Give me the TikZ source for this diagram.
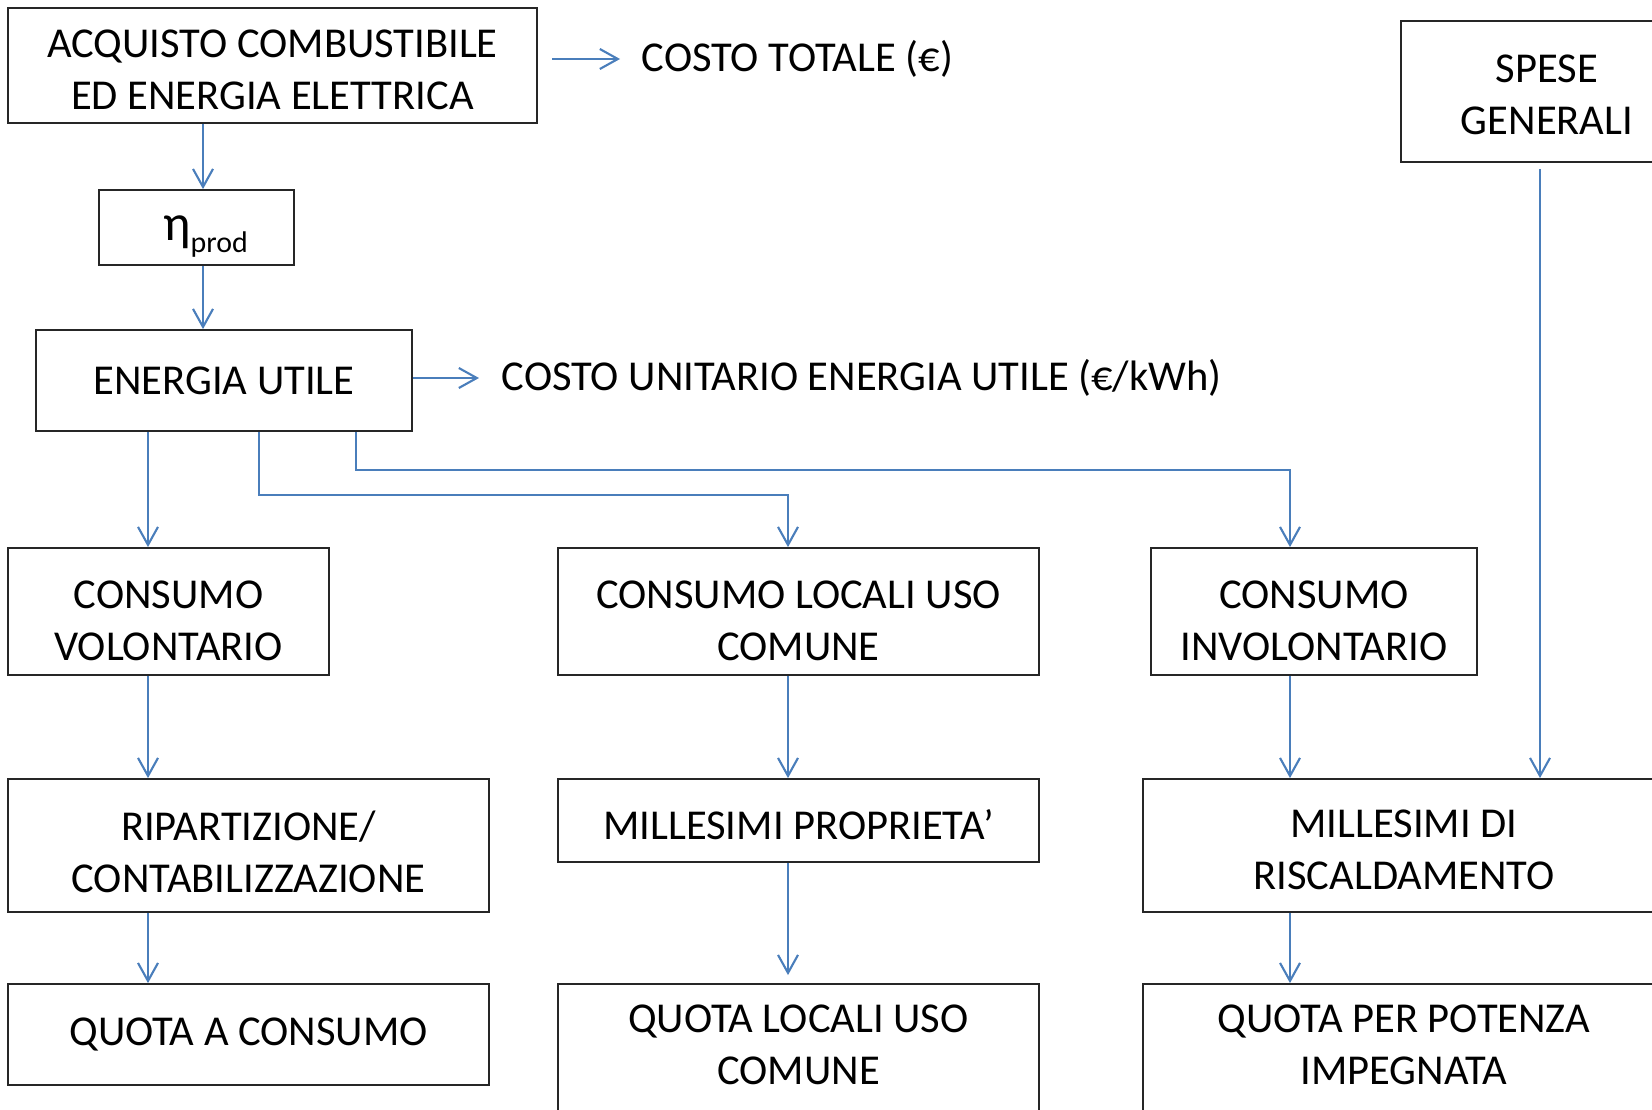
\documentclass[tikz,border=0pt]{standalone}
\usepackage{fontspec}
\setmainfont{Carlito}
\usepackage{tikz}
\usetikzlibrary{arrows.meta,calc}
\definecolor{linkblue}{HTML}{4A7EBB}
\newcommand{\tgap}[1]{\rule{0pt}{#1}}
\newcommand{\bgap}[1]{\rule[-#1]{0pt}{0pt}}

\begin{document}
\begin{tikzpicture}[x=0.01cm,y=-0.01cm,
    box/.style={draw=black!85, line width=0.5pt, align=center, inner sep=0pt,
        font=\fontsize{12.1}{14.8}\selectfont},
    lbl/.style={anchor=west, inner sep=0pt, font=\fontsize{12.1}{14.8}\selectfont},
    link/.style={draw=linkblue, line width=0.6pt, -{Straight Barb[length=0.18cm,width=0.2cm]}}]
        \useasboundingbox (0,0) rectangle (1652,1109);
        \clip (0,0) rectangle (1652,1109);
        % columns and bends
        \coordinate (xa) at (203,0);
        \coordinate (xv) at (148,0);
        \coordinate (xc) at (259,0);
        \coordinate (xd) at (356,0);
        \coordinate (xs) at (1540,0);
        \coordinate (b1) at (788,495);
        \coordinate (b2) at (1290,470);
        % boxes
        \node[box, minimum width=5.29cm, minimum height=1.15cm] (acq) at (272.5,65.5) {\tgap{10.3pt}ACQUISTO COMBUSTIBILE\\ED ENERGIA ELETTRICA};
        \node[box, minimum width=1.95cm, minimum height=0.75cm, text height=8pt, text depth=0.8pt] (eta) at (196.5,227.5)
            {\hspace*{0.18cm}{\fontsize{14.5}{14.5}\selectfont η}\raisebox{-0.12cm}{\fontsize{8.5}{8.5}\selectfont prod}};
        \node[box, minimum width=3.76cm, minimum height=1.01cm] (eu) at (224,380.5) {ENERGIA UTILE};
        \node[box, minimum width=2.92cm, minimum height=1.41cm] (sp) at (1547,91.5) {\tgap{10pt}SPESE\\GENERALI};
        \node[box, minimum width=3.21cm, minimum height=1.27cm] (cv) at (168.5,611.5) {\tgap{13pt}CONSUMO\\VOLONTARIO};
        \node[box, minimum width=4.81cm, minimum height=1.27cm] (cl) at (798.5,611.5) {\tgap{13pt}CONSUMO LOCALI USO\\COMUNE};
        \node[box, minimum width=3.26cm, minimum height=1.27cm] (ci) at (1314,611.5) {\tgap{13pt}CONSUMO\\INVOLONTARIO};
        \node[box, minimum width=4.81cm, minimum height=1.33cm] (rip) at (248.5,845.5) {\tgap{11.8pt}RIPARTIZIONE/\\CONTABILIZZAZIONE};
        \node[box, minimum width=4.81cm, minimum height=0.83cm] (mp) at (798.5,820.5) {\tgap{10.8pt}MILLESIMI PROPRIETA’};
        \node[box, minimum width=5.22cm, minimum height=1.33cm] (mr) at (1404,845.5) {\tgap{10.3pt}MILLESIMI DI\\RISCALDAMENTO};
        \node[box, minimum width=4.81cm, minimum height=1.01cm] (qc) at (248.5,1034.5) {QUOTA A CONSUMO};
        \node[box, minimum width=4.81cm, minimum height=1.34cm] (ql) at (798.5,1051) {QUOTA LOCALI USO\\COMUNE\bgap{3.4pt}};
        \node[box, minimum width=5.22cm, minimum height=1.34cm] (qp) at (1404,1051) {QUOTA PER POTENZA\\IMPEGNATA\bgap{3.4pt}};
        % side labels
        \node[lbl] (ct) at (641,59) {COSTO TOTALE (€)};
        \node[lbl] (ctu) at (501,378) {COSTO UNITARIO ENERGIA UTILE (€/kWh)};
        % connectors
        \draw[link] ($(acq.east |- ct.west)+(14,0)$) -- ($(ct.west)+(-21,0)$);
        \draw[link] (eu.east |- ctu.west) -- ($(ctu.west)+(-22,0)$);
        \draw[link] (acq.south -| xa) -- (eta.north -| xa);
        \draw[link] (eta.south -| xa) -- (eu.north -| xa);
        \draw[link] (eu.south -| xv) -- (cv.north -| xv);
        \draw[link] (eu.south -| xc) |- (b1) -- (cl.north -| b1);
        \draw[link] (eu.south -| xd) |- (b2) -- (ci.north -| b2);
        \draw[link] (cv.south -| xv) -- (rip.north -| xv);
        \draw[link] (rip.south -| xv) -- (qc.north -| xv);
        \draw[link] (cl.south -| b1) -- (mp.north -| b1);
        \draw[link] (mp.south -| b1) -- ($(ql.north -| b1)+(0,-8)$);
        \draw[link] (ci.south -| b2) -- (mr.north -| b2);
        \draw[link] (mr.south -| b2) -- (qp.north -| b2);
        \draw[link] ($(sp.south -| xs)+(0,6)$) -- (mr.north -| xs);
    \end{tikzpicture}
\end{document}
